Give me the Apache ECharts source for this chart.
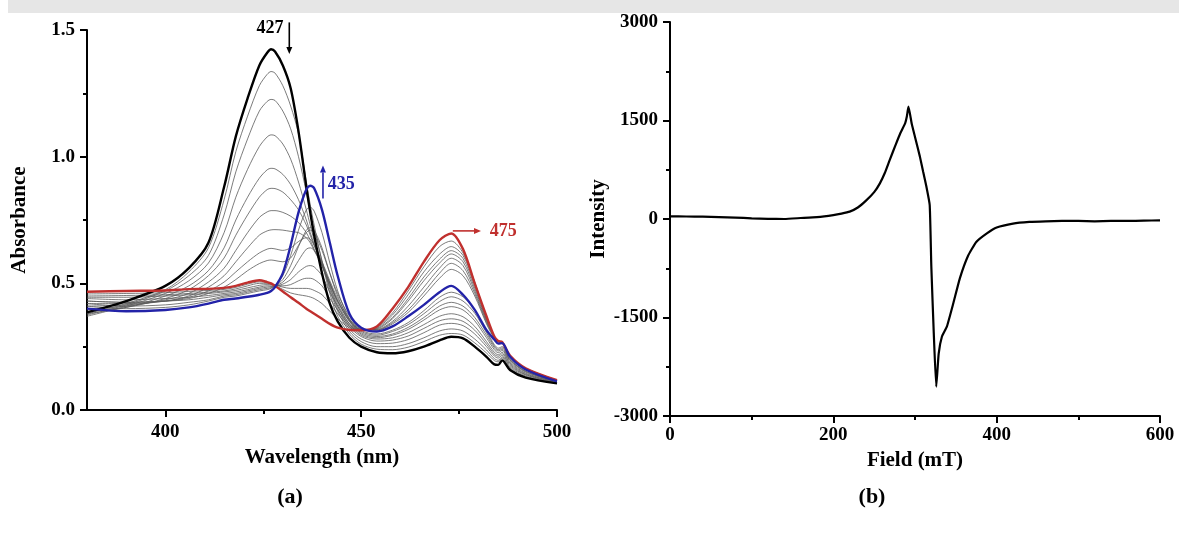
<!DOCTYPE html>
<html>
<head>
<meta charset="utf-8">
<title>UV-vis and EPR spectra</title>
<script src="https://cdn.jsdelivr.net/npm/echarts@6.0.0/dist/echarts.min.js"></script>
<style>
    html, body { margin: 0; padding: 0; background: #fff; }
    #chart { width: 1179px; height: 540px; }
</style>
</head>
<body>
<div id="chart"></div>
<script>
    // (a) UV-vis: wavelength grid (nm) shared by every spectrum
    var wavelength = [380, 390, 400, 406, 411, 415, 418, 421, 424, 426, 427, 428, 430, 432, 434, 436, 437, 438, 440, 442,
        444, 447, 450, 454, 458, 462, 466, 470, 473, 476, 479, 482, 484, 485, 486, 488, 492, 500];

    // thick curves: start (black), intermediate (blue), end (red)
    var absStart = [0.385, 0.43, 0.49, 0.56, 0.66, 0.88, 1.08, 1.23, 1.36, 1.41, 1.424, 1.415, 1.36, 1.27, 1.10, 0.88, 0.78, 0.69, 0.54, 0.42,
        0.35, 0.285, 0.25, 0.228, 0.224, 0.232, 0.25, 0.275, 0.289, 0.283, 0.25, 0.21, 0.18, 0.178, 0.196, 0.158, 0.128, 0.105];
    var absMid = [0.40, 0.39, 0.395, 0.405, 0.42, 0.435, 0.44, 0.447, 0.455, 0.462, 0.47, 0.485, 0.54, 0.65, 0.78, 0.87, 0.885, 0.875, 0.79, 0.66,
        0.53, 0.38, 0.325, 0.31, 0.33, 0.37, 0.415, 0.465, 0.49, 0.455, 0.395, 0.315, 0.278, 0.262, 0.264, 0.21, 0.16, 0.113];
    var absEnd = [0.467, 0.47, 0.472, 0.477, 0.478, 0.482, 0.49, 0.503, 0.512, 0.505, 0.50, 0.49, 0.468, 0.445, 0.423, 0.40, 0.39, 0.38, 0.36, 0.34,
        0.325, 0.316, 0.315, 0.33, 0.40, 0.485, 0.585, 0.67, 0.697, 0.635, 0.50, 0.37, 0.29, 0.272, 0.268, 0.215, 0.165, 0.118];

    // thin grey curves, first stage (427 band falling)
    var gray1 = [0.38, 0.42, 0.475, 0.545, 0.64, 0.83, 1.02, 1.16, 1.28, 1.325, 1.336, 1.33, 1.28, 1.20, 1.09, 0.90, 0.81, 0.73, 0.585, 0.46,
        0.37, 0.30, 0.26, 0.24, 0.238, 0.248, 0.27, 0.295, 0.302, 0.296, 0.265, 0.225, 0.195, 0.19, 0.205, 0.165, 0.13, 0.106];
    var gray2 = [0.375, 0.415, 0.47, 0.53, 0.61, 0.77, 0.94, 1.07, 1.18, 1.218, 1.226, 1.222, 1.18, 1.11, 1.0, 0.86, 0.78, 0.71, 0.59, 0.475,
        0.39, 0.31, 0.27, 0.25, 0.25, 0.262, 0.285, 0.312, 0.32, 0.312, 0.28, 0.237, 0.203, 0.196, 0.21, 0.17, 0.134, 0.107];
    var gray3 = [0.37, 0.41, 0.46, 0.51, 0.58, 0.70, 0.84, 0.95, 1.04, 1.078, 1.086, 1.083, 1.05, 0.99, 0.90, 0.79, 0.73, 0.67, 0.575, 0.485,
        0.40, 0.32, 0.28, 0.262, 0.264, 0.278, 0.305, 0.335, 0.342, 0.333, 0.30, 0.25, 0.213, 0.205, 0.216, 0.175, 0.138, 0.108];
    var gray4 = [0.38, 0.405, 0.45, 0.49, 0.55, 0.64, 0.75, 0.84, 0.915, 0.948, 0.954, 0.952, 0.93, 0.89, 0.83, 0.75, 0.70, 0.655, 0.57, 0.49,
        0.41, 0.33, 0.29, 0.272, 0.276, 0.292, 0.322, 0.352, 0.36, 0.35, 0.315, 0.26, 0.22, 0.212, 0.222, 0.18, 0.14, 0.109];
    var gray5 = [0.39, 0.405, 0.44, 0.475, 0.53, 0.60, 0.69, 0.77, 0.84, 0.87, 0.875, 0.874, 0.86, 0.83, 0.79, 0.73, 0.69, 0.65, 0.575, 0.50,
        0.42, 0.34, 0.295, 0.28, 0.285, 0.305, 0.337, 0.37, 0.38, 0.368, 0.33, 0.27, 0.228, 0.218, 0.228, 0.185, 0.143, 0.11];
    var gray6 = [0.40, 0.41, 0.435, 0.46, 0.505, 0.56, 0.63, 0.70, 0.76, 0.782, 0.787, 0.787, 0.78, 0.765, 0.74, 0.70, 0.67, 0.635, 0.57, 0.50,
        0.43, 0.35, 0.30, 0.285, 0.295, 0.318, 0.355, 0.395, 0.408, 0.395, 0.352, 0.285, 0.238, 0.226, 0.235, 0.19, 0.146, 0.11];
    var gray7 = [0.41, 0.415, 0.43, 0.45, 0.485, 0.53, 0.585, 0.64, 0.69, 0.707, 0.711, 0.712, 0.71, 0.705, 0.70, 0.68, 0.66, 0.63, 0.57, 0.50,
        0.43, 0.355, 0.305, 0.29, 0.30, 0.326, 0.365, 0.41, 0.425, 0.41, 0.365, 0.295, 0.246, 0.233, 0.24, 0.195, 0.15, 0.111];
    var gray8 = [0.42, 0.42, 0.43, 0.445, 0.47, 0.505, 0.545, 0.585, 0.62, 0.635, 0.638, 0.636, 0.63, 0.64, 0.665, 0.68, 0.675, 0.65, 0.585, 0.51,
        0.44, 0.36, 0.31, 0.295, 0.31, 0.337, 0.38, 0.428, 0.447, 0.43, 0.382, 0.305, 0.252, 0.238, 0.245, 0.198, 0.152, 0.112];
    var gray9 = [0.43, 0.425, 0.43, 0.44, 0.46, 0.485, 0.515, 0.55, 0.578, 0.59, 0.592, 0.59, 0.585, 0.60, 0.65, 0.70, 0.71, 0.70, 0.63, 0.54,
        0.46, 0.37, 0.315, 0.30, 0.315, 0.345, 0.392, 0.445, 0.465, 0.447, 0.395, 0.312, 0.258, 0.244, 0.25, 0.20, 0.154, 0.112];
    // second stage (435 band falling, 475 band rising)
    var gray10 = [0.41, 0.40, 0.405, 0.415, 0.43, 0.445, 0.45, 0.46, 0.47, 0.475, 0.48, 0.49, 0.53, 0.61, 0.71, 0.79, 0.80, 0.785, 0.70, 0.58,
        0.47, 0.36, 0.32, 0.315, 0.34, 0.385, 0.45, 0.52, 0.555, 0.53, 0.45, 0.34, 0.283, 0.268, 0.266, 0.21, 0.162, 0.114];
    var gray11 = [0.42, 0.41, 0.415, 0.425, 0.435, 0.45, 0.455, 0.465, 0.475, 0.48, 0.483, 0.49, 0.515, 0.57, 0.645, 0.71, 0.72, 0.71, 0.64, 0.54,
        0.45, 0.355, 0.318, 0.316, 0.345, 0.395, 0.465, 0.54, 0.579, 0.55, 0.46, 0.345, 0.285, 0.27, 0.267, 0.212, 0.163, 0.115];
    var gray12 = [0.43, 0.425, 0.43, 0.435, 0.445, 0.455, 0.46, 0.47, 0.48, 0.485, 0.487, 0.49, 0.505, 0.54, 0.59, 0.635, 0.64, 0.63, 0.58, 0.50,
        0.43, 0.35, 0.317, 0.318, 0.35, 0.41, 0.485, 0.56, 0.599, 0.57, 0.47, 0.35, 0.287, 0.271, 0.267, 0.213, 0.164, 0.116];
    var gray13 = [0.44, 0.435, 0.44, 0.445, 0.452, 0.46, 0.466, 0.475, 0.485, 0.49, 0.49, 0.49, 0.497, 0.515, 0.545, 0.567, 0.57, 0.565, 0.53, 0.465,
        0.41, 0.34, 0.316, 0.32, 0.36, 0.43, 0.51, 0.58, 0.616, 0.585, 0.48, 0.355, 0.288, 0.271, 0.267, 0.213, 0.164, 0.116];
    var gray14 = [0.445, 0.445, 0.45, 0.455, 0.46, 0.466, 0.472, 0.482, 0.492, 0.495, 0.495, 0.493, 0.49, 0.495, 0.51, 0.52, 0.52, 0.515, 0.49, 0.44,
        0.395, 0.335, 0.315, 0.322, 0.365, 0.44, 0.525, 0.595, 0.629, 0.598, 0.49, 0.36, 0.289, 0.272, 0.268, 0.214, 0.165, 0.117];
    var gray15 = [0.45, 0.452, 0.455, 0.46, 0.465, 0.47, 0.478, 0.49, 0.50, 0.50, 0.498, 0.494, 0.485, 0.48, 0.48, 0.48, 0.478, 0.472, 0.455, 0.42,
        0.38, 0.33, 0.314, 0.325, 0.375, 0.455, 0.545, 0.615, 0.645, 0.61, 0.50, 0.362, 0.29, 0.272, 0.268, 0.214, 0.165, 0.117];
    var gray16 = [0.458, 0.46, 0.463, 0.468, 0.472, 0.476, 0.484, 0.497, 0.506, 0.503, 0.499, 0.492, 0.476, 0.462, 0.455, 0.45, 0.446, 0.44, 0.42, 0.39,
        0.36, 0.325, 0.315, 0.328, 0.383, 0.47, 0.565, 0.645, 0.667, 0.62, 0.505, 0.365, 0.29, 0.272, 0.268, 0.215, 0.165, 0.118];
    var grays = [gray1, gray2, gray3, gray4, gray5, gray6, gray7, gray8, gray9,
        gray10, gray11, gray12, gray13, gray14, gray15, gray16];

    // (b) EPR
    var field = [0, 20, 40, 60, 80, 100, 120, 140, 160, 180, 200, 210, 220, 230, 240, 250, 257, 263, 269, 276,
        282, 288, 290, 292, 296, 300, 306, 310, 314, 318, 320, 323, 326, 329, 333, 339, 347, 355, 365, 375,
        388, 400, 420, 440, 460, 480, 500, 520, 540, 560, 580, 600];
    var intensity = [40, 38, 35, 30, 22, 10, 2, 0, 15, 30, 60, 82, 112, 175, 280, 410, 543, 700, 898, 1120,
        1305, 1460, 1560, 1710, 1450, 1250, 950, 720, 490, 213, -726, -1742, -2554, -2050, -1790, -1640, -1280, -900, -560, -350,
        -220, -130, -70, -45, -35, -30, -30, -35, -30, -30, -25, -20];

    // tick labels
    var wlTicks = [400, 450, 500];
    var wlMinorTicks = [425, 475];

    var BLUE = '#2323a8';
    var RED = '#c0302e';
    var FONT = '"Liberation Serif", "Times New Roman", serif';

    var chart = echarts.init(document.getElementById('chart'));

    function pairs(xs, ys) {
        return xs.map(function (x, i) { return [x, ys[i]]; });
    }

    var tickLabel = {color: '#000', fontFamily: FONT, fontWeight: 'bold', fontSize: 19};
    var nameStyle = {color: '#000', fontFamily: FONT, fontWeight: 'bold', fontSize: 21};
    var blackLine = {color: '#000', width: 2};

    var series = [];
    grays.forEach(function (g) {
        series.push({
            type: 'line', xAxisIndex: 0, yAxisIndex: 0,
            data: pairs(wavelength, g), showSymbol: false, smooth: 0.3,
            lineStyle: {color: '#5a5a5a', width: 0.8}, silent: true
        });
    });
    series.push({
        type: 'line', xAxisIndex: 0, yAxisIndex: 0, data: pairs(wavelength, absStart),
        showSymbol: false, smooth: 0.3, lineStyle: {color: '#000', width: 2.4}
    });
    series.push({
        type: 'line', xAxisIndex: 0, yAxisIndex: 0, data: pairs(wavelength, absEnd),
        showSymbol: false, smooth: 0.3, lineStyle: {color: RED, width: 2.4}
    });
    series.push({
        type: 'line', xAxisIndex: 0, yAxisIndex: 0, data: pairs(wavelength, absMid),
        showSymbol: false, smooth: 0.3, lineStyle: {color: BLUE, width: 2.4}
    });
    series.push({
        type: 'line', xAxisIndex: 2, yAxisIndex: 1, data: pairs(field, intensity),
        showSymbol: false, smooth: 0.15, lineStyle: {color: '#000', width: 2.2}
    });

    var option = {
        animation: false,
        backgroundColor: '#fff',
        grid: [
            {left: 87, top: 30, width: 470, height: 380},
            {left: 670, top: 22, width: 490, height: 394}
        ],
        xAxis: [
            {
                gridIndex: 0, type: 'value', min: 380, max: 500, position: 'bottom',
                name: 'Wavelength (nm)', nameLocation: 'middle', nameGap: 36, nameTextStyle: nameStyle,
                axisLine: {onZero: false, lineStyle: blackLine},
                axisTick: {customValues: wlTicks, length: 7, lineStyle: blackLine},
                axisLabel: Object.assign({customValues: wlTicks, margin: 13}, tickLabel),
                splitLine: {show: false}
            },
            {
                // minor ticks of the wavelength axis
                gridIndex: 0, type: 'value', min: 380, max: 500, position: 'bottom', offset: 0,
                axisLine: {show: false},
                axisTick: {customValues: wlMinorTicks, length: 4, lineStyle: blackLine},
                axisLabel: {show: false},
                splitLine: {show: false}
            },
            {
                gridIndex: 1, type: 'value', min: 0, max: 600, interval: 200, position: 'bottom',
                name: 'Field (mT)', nameLocation: 'middle', nameGap: 34, nameTextStyle: nameStyle,
                axisLine: {onZero: false, lineStyle: blackLine},
                axisTick: {length: 7, lineStyle: blackLine},
                minorTick: {show: true, splitNumber: 2, length: 4, lineStyle: blackLine},
                axisLabel: Object.assign({margin: 10, formatter: function (v) { return String(v); }}, tickLabel),
                splitLine: {show: false}
            }
        ],
        yAxis: [
            {
                gridIndex: 0, type: 'value', min: 0, max: 1.5, interval: 0.5,
                name: 'Absorbance', nameLocation: 'middle', nameGap: 57, nameTextStyle: nameStyle,
                axisLine: {onZero: false, lineStyle: blackLine},
                axisTick: {length: 7, lineStyle: blackLine},
                minorTick: {show: true, splitNumber: 2, length: 4, lineStyle: blackLine},
                axisLabel: Object.assign({margin: 12, formatter: function (v) { return v.toFixed(1); }}, tickLabel),
                splitLine: {show: false}
            },
            {
                gridIndex: 1, type: 'value', min: -3000, max: 3000, interval: 1500,
                name: 'Intensity', nameLocation: 'middle', nameGap: 61, nameTextStyle: nameStyle,
                axisLine: {onZero: false, lineStyle: blackLine},
                axisTick: {length: 7, lineStyle: blackLine},
                minorTick: {show: true, splitNumber: 2, length: 4, lineStyle: blackLine},
                axisLabel: Object.assign({margin: 12, formatter: function (v) { return String(v); }}, tickLabel),
                splitLine: {show: false}
            }
        ],
        series: series
    };

    chart.setOption(option);

    // peak annotations, given in data coordinates of panel (a)
    var notes = [
        {text: '427', color: '#000', at: [426.7, 1.505], from: [431.65, 1.53], to: [431.65, 1.405]},
        {text: '435', color: BLUE, at: [444.9, 0.89], from: [440.25, 0.835], to: [440.25, 0.965]},
        {text: '475', color: RED, at: [486.3, 0.707], from: [473.4, 0.707], to: [480.6, 0.707]}
    ];
    var refSeries = grays.length; // black curve
    var graphics = [
        {type: 'rect', shape: {x: 8, y: 0, width: 1171, height: 13}, style: {fill: '#e6e6e6'}, z: -10, silent: true},
        {type: 'text', x: 290, y: 497, style: {text: '(a)', font: 'bold 22px ' + FONT, fill: '#000', align: 'center', verticalAlign: 'middle'}},
        {type: 'text', x: 872, y: 497, style: {text: '(b)', font: 'bold 22px ' + FONT, fill: '#000', align: 'center', verticalAlign: 'middle'}}
    ];
    notes.forEach(function (n) {
        var p = chart.convertToPixel({seriesIndex: refSeries}, n.at);
        var a = chart.convertToPixel({seriesIndex: refSeries}, n.from);
        var b = chart.convertToPixel({seriesIndex: refSeries}, n.to);
        var dx = b[0] - a[0], dy = b[1] - a[1];
        var len = Math.sqrt(dx * dx + dy * dy);
        var ux = dx / len, uy = dy / len;
        var hl = 7, hw = 3;
        var bx = b[0] - ux * hl, by = b[1] - uy * hl;
        graphics.push({
            type: 'text', x: p[0], y: p[1],
            style: {text: n.text, font: 'bold 18px ' + FONT, fill: n.color, align: 'center', verticalAlign: 'middle'}
        });
        graphics.push({
            type: 'line', shape: {x1: a[0], y1: a[1], x2: bx, y2: by},
            style: {stroke: n.color, lineWidth: 1.6}
        });
        graphics.push({
            type: 'polygon',
            shape: {points: [[b[0], b[1]], [bx - uy * hw, by + ux * hw], [bx + uy * hw, by - ux * hw]]},
            style: {fill: n.color}
        });
    });
    chart.setOption({graphic: graphics});

    window.addEventListener('resize', function () {
        chart.resize();
    });
</script>
</body>
</html>
